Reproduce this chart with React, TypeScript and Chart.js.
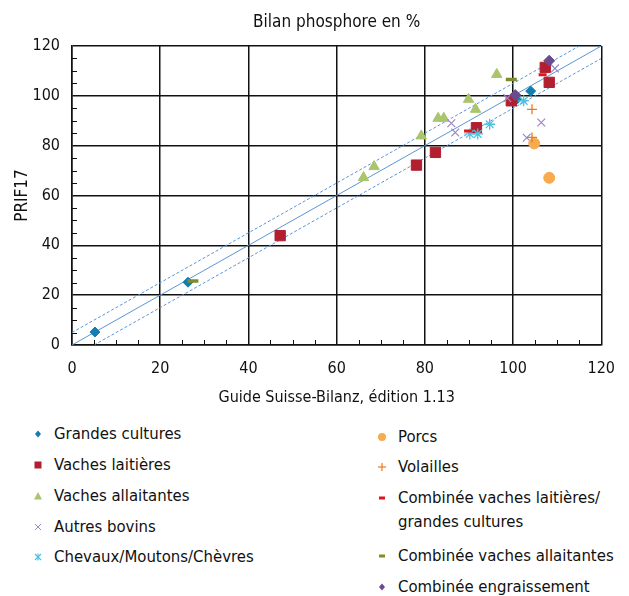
import React, { useEffect, useRef } from "react";
import { Chart, registerables } from "chart.js";

Chart.register(...registerables);

const FONT = "'Liberation Sans Narrow', 'DejaVu Sans Condensed', 'Open Sans', sans-serif";

// Reference lines (y = x, y = x ± 5)
const diagX = [0, 120];
const diagY = [0, 120];
const upperX = [0, 115];
const upperY = [5, 120];
const lowerX = [5, 120];
const lowerY = [0, 115];

// Series values
const grandesCulturesX = [5.2, 26.3, 100.8, 104.0];
const grandesCulturesY = [5.2, 25.2, 98.5, 101.9];

const vachesLaitieresX = [47.2, 78.1, 82.4, 91.7, 99.6, 107.3, 108.2];
const vachesLaitieresY = [43.9, 72.2, 77.3, 87.2, 98.0, 111.4, 105.4];

const vachesAllaitantesX = [66.1, 68.5, 79.2, 83.0, 84.3, 89.9, 91.5, 96.3];
const vachesAllaitantesY = [67.2, 71.6, 83.9, 91.0, 91.0, 98.6, 94.6, 108.6];

const autresBovinsX = [86.0, 86.9, 98.7, 103.1, 106.4, 109.5];
const autresBovinsY = [89.0, 85.3, 99.1, 83.2, 89.3, 111.0];

const chevauxX = [90.2, 92.0, 94.7, 102.4];
const chevauxY = [84.7, 84.7, 88.6, 98.0];

const porcsX = [104.8, 108.2];
const porcsY = [80.9, 67.1];

const volaillesX = [104.3, 104.3];
const volaillesY = [94.6, 83.3];

const combVLGCX = [89.8, 106.7];
const combVLGCY = [85.9, 108.5];

const combVAX = [27.4, 99.6];
const combVAY = [25.7, 106.6];

const engraissementX = [100.5, 108.2];
const engraissementY = [100.3, 114.1];

const axisTicks = [0, 20, 40, 60, 80, 100, 120];

const zip = (xs: number[], ys: number[]) => xs.map((x, i) => ({ x, y: ys[i] }));

type SeriesDef = {
  label: string;
  xs: number[];
  ys: number[];
  color: string;
  style: string;
  radius: number;
  border: number;
};

const series: SeriesDef[] = [
  { label: "Grandes cultures", xs: grandesCulturesX, ys: grandesCulturesY, color: "#137DB0", style: "rectRot", radius: 5, border: 1 },
  { label: "Vaches laitières", xs: vachesLaitieresX, ys: vachesLaitieresY, color: "#B21F2F", style: "rect", radius: 7.3, border: 1 },
  { label: "Vaches allaitantes", xs: vachesAllaitantesX, ys: vachesAllaitantesY, color: "#AAC56E", style: "triangle", radius: 6, border: 1 },
  { label: "Autres bovins", xs: autresBovinsX, ys: autresBovinsY, color: "#9C86C6", style: "crossRot", radius: 5.5, border: 1.2 },
  { label: "Chevaux/Moutons/Chèvres", xs: chevauxX, ys: chevauxY, color: "#4DC2E3", style: "star", radius: 5.5, border: 1.3 },
  { label: "Porcs", xs: porcsX, ys: porcsY, color: "#F8AB4E", style: "circle", radius: 5.5, border: 1 },
  { label: "Volailles", xs: volaillesX, ys: volaillesY, color: "#EC7B1C", style: "cross", radius: 5, border: 1.3 },
  { label: "Combinée vaches laitières/grandes cultures", xs: combVLGCX, ys: combVLGCY, color: "#E3131E", style: "line", radius: 4, border: 3 },
  { label: "Combinée vaches allaitantes", xs: combVAX, ys: combVAY, color: "#7E8C2C", style: "line", radius: 5.5, border: 3.5 },
  { label: "Combinée engraissement", xs: engraissementX, ys: engraissementY, color: "#6B4A8E", style: "rectRot", radius: 5.5, border: 1 },
];

const minorTicks = {
  id: "minorTicks",
  afterDraw(chart: any) {
    const { ctx, chartArea, scales } = chart;
    ctx.save();
    ctx.strokeStyle = "#111";
    ctx.lineWidth = 1;
    for (let v = 5; v < 120; v += 5) {
      if (v % 20 === 0) continue;
      const px = Math.round(scales.x.getPixelForValue(v)) + 0.5;
      ctx.beginPath();
      ctx.moveTo(px, chartArea.bottom);
      ctx.lineTo(px, chartArea.bottom - 5);
      ctx.stroke();
      const py = Math.round(scales.y.getPixelForValue(v)) + 0.5;
      ctx.beginPath();
      ctx.moveTo(chartArea.left, py);
      ctx.lineTo(chartArea.left + 5, py);
      ctx.stroke();
    }
    ctx.restore();
  },
};

function Marker({ s }: { s: SeriesDef }) {
  const c = s.color;
  let shape: any = null;
  switch (s.style) {
    case "rectRot":
      shape = <polygon points="6,2.5 9,6 6,9.5 3,6" fill={c} />;
      break;
    case "rect":
      shape = <rect x="2.5" y="2.5" width="7" height="7" fill={c} />;
      break;
    case "triangle":
      shape = <polygon points="6,2 10,9.5 2,9.5" fill={c} />;
      break;
    case "crossRot":
      shape = (
        <g stroke={c} strokeWidth="1">
          <line x1="3" y1="3" x2="9" y2="9" />
          <line x1="9" y1="3" x2="3" y2="9" />
        </g>
      );
      break;
    case "star":
      shape = (
        <g stroke={c} strokeWidth="1.2">
          <line x1="3" y1="3" x2="9" y2="9" />
          <line x1="9" y1="3" x2="3" y2="9" />
          <line x1="6" y1="2.5" x2="6" y2="9.5" />
        </g>
      );
      break;
    case "circle":
      shape = <circle cx="6" cy="6" r="4" fill={c} />;
      break;
    case "cross":
      shape = (
        <g stroke={c} strokeWidth="1.2">
          <line x1="6" y1="2" x2="6" y2="10" />
          <line x1="2" y1="6" x2="10" y2="6" />
        </g>
      );
      break;
    case "line":
      shape = <rect x="3" y="4.5" width="6" height="3" fill={c} />;
      break;
  }
  return (
    <svg width="12" height="12" style={{ position: "absolute", left: 0, top: 6 }}>
      {shape}
    </svg>
  );
}

const legendLeft = [0, 1, 2, 3, 4];
const legendRight = [5, 6, 7, 8, 9];
const legendLeftCenter = [434, 465, 496, 527, 557];
const legendRightCenter = [437, 467, 498, 556, 587];

export default function App() {
  const canvasRef = useRef<HTMLCanvasElement | null>(null);

  useEffect(() => {
    if (!canvasRef.current) return;
    const lineBlue = "#5B95D8";
    const refLines: any[] = [
      { data: zip(diagX, diagY), dash: [] },
      { data: zip(upperX, upperY), dash: [3, 2] },
      { data: zip(lowerX, lowerY), dash: [3, 2] },
    ].map((l) => ({
      type: "line",
      label: "ref",
      data: l.data,
      showLine: true,
      borderColor: lineBlue,
      borderWidth: 1,
      borderDash: l.dash,
      pointRadius: 0,
      fill: false,
      order: 20,
    }));

    const pts: any[] = series.map((s, i) => ({
      type: "scatter",
      label: s.label,
      data: zip(s.xs, s.ys),
      pointStyle: s.style,
      pointRadius: s.radius,
      pointBackgroundColor: s.color,
      pointBorderColor: s.color,
      pointBorderWidth: s.border,
      order: 10 - i,
    }));

    const chart = new Chart(canvasRef.current, {
      type: "scatter",
      data: { datasets: [...refLines, ...pts] },
      options: {
        animation: false,
        responsive: false,
        layout: { padding: { left: 0, right: 26, top: 0, bottom: 0 } },
        plugins: {
          legend: { display: false },
          tooltip: { enabled: false },
          title: {
            display: true,
            text: "Bilan phosphore en %",
            fullSize: false,
            color: "#111",
            font: { family: FONT, size: 17, weight: "normal" },
            padding: { top: 12, bottom: 13.6 },
          },
        },
        scales: {
          x: {
            type: "linear",
            min: 0,
            max: 120,
            afterBuildTicks: (scale: any) => {
              scale.ticks = axisTicks.map((v) => ({ value: v }));
            },
            afterFit: (scale: any) => {
              scale.height = 65;
            },
            ticks: {
              color: "#111",
              padding: 14,
              font: { family: FONT, size: 16 },
              maxRotation: 0,
            },
            grid: { color: "#111", lineWidth: 1.5, drawTicks: false },
            border: { color: "#111", width: 1.5 },
            title: {
              display: true,
              text: "Guide Suisse-Bilanz, édition 1.13",
              color: "#111",
              font: { family: FONT, size: 16 },
              padding: { top: 9, bottom: 3 },
            },
          },
          y: {
            type: "linear",
            min: 0,
            max: 120,
            afterBuildTicks: (scale: any) => {
              scale.ticks = axisTicks.map((v) => ({ value: v }));
            },
            afterFit: (scale: any) => {
              scale.width = 72;
            },
            ticks: {
              color: "#111",
              padding: 12,
              font: { family: FONT, size: 16 },
            },
            grid: { color: "#111", lineWidth: 1.5, drawTicks: false },
            border: { color: "#111", width: 1.5 },
            title: {
              display: true,
              text: "PRIF17",
              color: "#111",
              font: { family: FONT, size: 17 },
              padding: { top: 12.5, bottom: 0 },
            },
          },
        },
      },
      plugins: [minorTicks],
    } as any);
    return () => chart.destroy();
  }, []);

  const itemStyle = (left: number, center: number): React.CSSProperties => ({
    position: "absolute",
    left,
    top: center - 12,
    paddingLeft: 22,
    fontFamily: FONT,
    fontSize: 16.6,
    lineHeight: "24px",
    color: "#111",
    whiteSpace: "nowrap",
  });

  return (
    <div style={{ position: "absolute", left: 0, top: 0, width: 629, height: 596, background: "#fff" }}>
      <canvas ref={canvasRef} width={629} height={410} style={{ display: "block" }} />
      {legendLeft.map((idx, k) => (
        <div key={"l" + k} style={itemStyle(32, legendLeftCenter[k])}>
          <Marker s={series[idx]} />
          {series[idx].label}
        </div>
      ))}
      {legendRight.map((idx, k) => (
        <div key={"r" + k} style={itemStyle(376, legendRightCenter[k])}>
          <Marker s={series[idx]} />
          {idx === 7 ? (
            <span>
              Combinée vaches laitières/
              <br />
              grandes cultures
            </span>
          ) : (
            series[idx].label
          )}
        </div>
      ))}
    </div>
  );
}
